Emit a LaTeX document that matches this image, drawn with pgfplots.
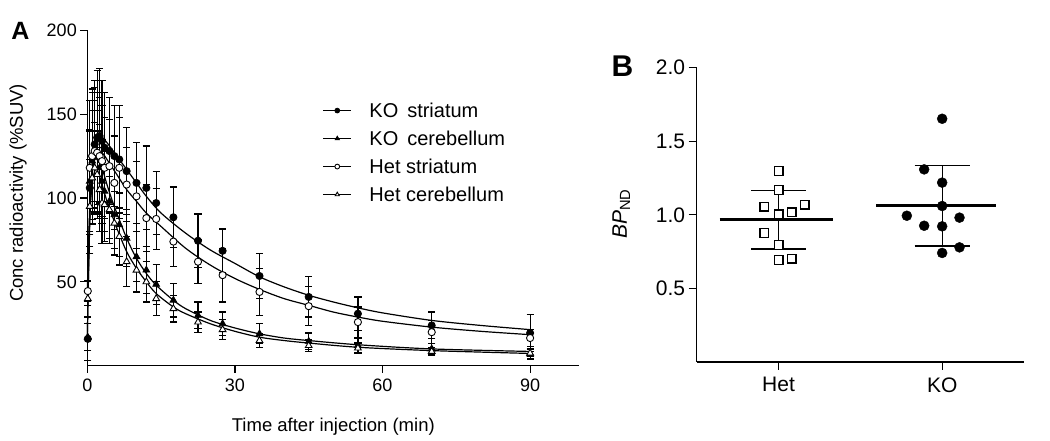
\documentclass[border=0pt]{standalone}
\usepackage{fontspec}
\setmainfont{Liberation Sans}
\usepackage{pgfplots}
\pgfplotsset{compat=1.18}
\usepackage{pgfplotstable}

\pgfplotstableread{
t v e
0.1 16 13
0.5 106 35
1 125 38
1.5 132 38
2 136 40
2.5 137 40
3 134 36
3.5 130 33
4.5 128 32
5.5 125 30
6.5 123 32
8 116 26
10 109 24
12 106 25
14 97 19
17.5 88.5 18
22.5 74.5 16
27.5 68.5 13
35 53.5 13.5
45 41 12
55 31 10
70 24 8
90 19.5 11
}\kostr
\pgfplotstableread{
t v e
0.1 17 8
0.5 110 30
1 122 30
1.5 128 30
2 124 28
2.5 118 26
3 110 25
3.5 104 24
4.5 98 22
5.5 90 20
6.5 84 19
8 76 17
10 65 15
12 57 14
14 48.5 12
17.5 39 10
22.5 30 8
27.5 25 7
35 19 6
45 14.5 5
55 12 4
70 10 3
90 7 3
}\kocer
\pgfplotstableread{
t v e
0.1 44.5 6
0.5 118 40
1 125 40
1.5 128 38
2 127 36
2.5 125 35
3 122 33
3.5 118 30
4.5 119 28
5.5 109 28
6.5 118 30
8 108 22
10 101 21
12 88 20
14 87.5 18
17.5 74 15
22.5 62 13
27.5 54 16
35 44 14
45 35.5 11.5
55 26 9
70 20 7
90 16.5 5
}\hetstr
\pgfplotstableread{
t v e
0.1 40 4
0.5 95 28
1 112 28
1.5 118 27
2 114 26
2.5 105 25
3 97 24
3.5 96 22
4.5 93 20
5.5 85 19
6.5 77 17
8 62 15
10 57 13
12 50 12
14 40 10
17.5 34 8
22.5 26 6
27.5 21.5 6
35 15 4
45 12 3.5
55 10.5 3
70 8.5 2.5
90 7.5 2
}\hetcer
% fitted curves
\pgfplotstableread{
t v
0 16
0.5 90
1 120
1.5 132
2 136
3 136
4 133
6 125
8 117
10 109
12 101
15 91
20 79
25 69
30 61
35 53
40 47
45 42
50 38
55 34.5
60 31.5
70 27
80 24
90 21.5
}\fitkostr
\pgfplotstableread{
t v
0 44.5
0.5 95
1 115
1.5 124
2 127
3 127
4 123
6 114
8 105
10 98
12 91
15 83
20 70
25 60
30 52
35 45.5
40 40
45 36
50 32
55 29
60 26.5
70 23
80 20.5
90 18.5
}\fithetstr
\pgfplotstableread{
t v
0 17
0.5 85
1 115
1.5 126
2 127
3 118
4 108
5 99
6 91
8 76
10 64
12 55
14 48
17.5 39
20 34
25 27
30 22.5
35 19
40 16.5
45 15
55 12.5
70 10
90 8.5
}\fitkocer
\pgfplotstableread{
t v
0 40
0.5 90
1 108
1.5 116
2 117
3 108
4 98
5 90
6 82
8 68
10 58
12 50
14 43
17.5 35
20 31
25 25
30 20.5
35 17
40 15
45 13.5
55 11
70 9
90 7.3
}\fithetcer

\pgfplotsset{
  ebar/.style={error bars/.cd, y dir=both, y explicit,
    error bar style={line width=1.2pt, black},
    error mark options={rotate=90, line width=1.2pt, black, mark size=3.6pt}, /pgfplots/.cd},
  fit/.style={black, line width=1.2pt, smooth, forget plot, mark=none},
  limg/.style={legend image code/.code={
    \draw[black, line width=1.1pt] (0pt,0pt) -- (28pt,0pt);
    \draw[##1, mark size=2.4pt] plot coordinates {(14pt,0pt)};
    \path (44pt,0pt);}},
}

\begin{document}
\begin{tikzpicture}[x=1pt,y=1pt]
\path[use as bounding box] (0,0) rectangle (1050,441);
\begin{axis}[
  at={(87.3pt,75.3pt)}, anchor=south west,
  width=492pt, height=335.4pt, scale only axis,
  xmin=0, xmax=100, ymin=0, ymax=200,
  axis x line*=bottom, axis y line*=left,
  axis line style={-, line width=1.2pt},
  xtick={0,30,60,90}, ytick={50,100,150,200},
  tick align=outside, major tick length=7pt,
  tick style={line width=1.2pt, black},
  tick label style={font=\fontsize{18}{21}\selectfont},
  xticklabel style={yshift=-3pt},
  /pgf/number format/assume math mode=true,
  xlabel={Time after injection (min)},
  ylabel={Conc radioactivity (\%SUV)},
  xlabel style={font=\fontsize{18.5}{21}\selectfont, at={(axis description cs:0.5,0)}, anchor=base, yshift=-66pt},
  ylabel style={font=\fontsize{18.5}{21}\selectfont, at={(axis description cs:-0.1307,0.515)}, anchor=base},
  clip=false,
  legend style={at={(0.472,0.797)}, anchor=north west, draw=none, fill=none,
    font=\fontsize{20}{22}\selectfont, row sep=8pt},
  legend cell align=left,
]
\addplot[fit] table[x=t,y=v] {\fitkostr};
\addplot[fit] table[x=t,y=v] {\fitkocer};
\addplot[fit] table[x=t,y=v] {\fithetstr};
\addplot[fit] table[x=t,y=v] {\fithetcer};

\addplot[only marks, mark=*, mark size=3.6pt, mark options={fill=black, draw=black, line width=0.8pt}, limg, ebar]
  table[x=t, y=v, y error=e] {\kostr};
\addlegendentry{KO\, striatum}
\addplot[only marks, mark=triangle*, mark size=3.9pt, mark options={fill=black, draw=black, line width=0.8pt}, limg, ebar]
  table[x=t, y=v, y error=e] {\kocer};
\addlegendentry{KO\, cerebellum}
\addplot[only marks, mark=*, mark size=3.6pt, mark options={fill=white, draw=black, line width=0.9pt}, limg, ebar]
  table[x=t, y=v, y error=e] {\hetstr};
\addlegendentry{Het striatum}
\addplot[only marks, mark=triangle*, mark size=3.9pt, mark options={fill=white, draw=black, line width=0.9pt}, limg, ebar]
  table[x=t, y=v, y error=e] {\hetcer};
\addlegendentry{Het cerebellum}
\end{axis}

\node[font=\fontsize{25}{28}\selectfont\bfseries] at (20.5,410) {A};
\node[font=\fontsize{30}{33}\selectfont\bfseries] at (622.5,375) {B};

\begin{axis}[
  at={(696.7pt,79pt)}, anchor=south west,
  width=327.3pt, height=294.3pt, scale only axis,
  xmin=0.5, xmax=2.5, ymin=0, ymax=2,
  axis x line*=bottom, axis y line*=left,
  axis line style={-, line width=1.2pt},
  xtick={1,2}, xticklabels={Het,KO},
  ytick={0.5,1,1.5,2},
  yticklabel style={/pgf/number format/.cd, fixed, fixed zerofill, precision=1},
  xticklabel style={yshift=-4pt},
  tick align=outside, major tick length=8pt,
  tick style={line width=1.2pt, black},
  tick label style={font=\fontsize{21}{24}\selectfont},
  /pgf/number format/assume math mode=true,
  ylabel={\textit{BP}\textsubscript{ND}},
  ylabel style={font=\fontsize{21}{24}\selectfont, at={(axis description cs:-0.213,0.503)}, anchor=base},
  clip=false,
]
\addplot[black, line width=3pt] coordinates {(0.64,0.967) (1.333,0.967)};
\addplot[black, line width=1.3pt] coordinates {(1,0.768) (1,1.166)};
\addplot[black, line width=1.3pt] coordinates {(0.833,1.166) (1.165,1.166)};
\addplot[black, line width=1.3pt] coordinates {(0.833,0.768) (1.165,0.768)};
\addplot[black, line width=3pt] coordinates {(1.597,1.062) (2.33,1.062)};
\addplot[black, line width=1.3pt] coordinates {(2,0.789) (2,1.335)};
\addplot[black, line width=1.3pt] coordinates {(1.831,1.335) (2.167,1.335)};
\addplot[black, line width=1.3pt] coordinates {(1.831,0.789) (2.167,0.789)};
\addplot[only marks, mark=square*, mark size=4.3pt, mark options={fill=white, draw=black, line width=1.4pt}]
  coordinates {(1.0,1.298) (1.0,1.169) (0.914,1.055) (1.16,1.069) (1.0,1.003) (1.08,1.017) (0.914,0.877) (1.0,0.795) (1.0,0.693) (1.08,0.702)};
\addplot[only marks, mark=*, mark size=5pt, mark options={fill=black, draw=black}]
  coordinates {(2.0,1.653) (1.89,1.309) (2.0,1.219) (2.0,1.060) (1.784,0.994) (2.106,0.981) (1.89,0.926) (2.0,0.922) (2.106,0.779) (2.0,0.741)};
\end{axis}
\end{tikzpicture}
\end{document}
